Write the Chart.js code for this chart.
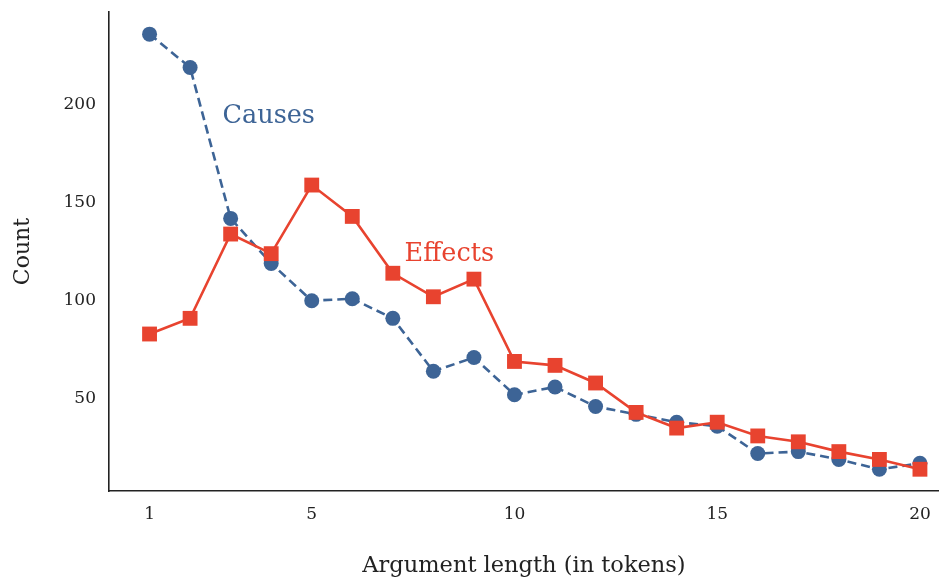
<!DOCTYPE html>
<html>
<head>
<meta charset="utf-8">
<script src="https://cdn.jsdelivr.net/npm/chart.js@4"></script>
<style>
  html, body { margin: 0; padding: 0; background: #fff; overflow: hidden; }
  #wrap { width: 939px; height: 577px; position: relative; }
  canvas { display: block; }
</style>
</head>
<body>
<div id="wrap"><canvas id="chart"></canvas></div>
<script>
// ── Data ───────────────────────────────────────────
const lengths = [1, 2, 3, 4, 5, 6, 7, 8, 9, 10, 11, 12, 13, 14, 15, 16, 17, 18, 19, 20];
const causes  = [236, 219, 142, 119, 100, 101, 91, 64, 71, 52, 56, 46, 42, 38, 36, 22, 23, 19, 14, 17];
const effects = [83, 91, 134, 124, 159, 143, 114, 102, 111, 69, 67, 58, 43, 35, 38, 31, 28, 23, 19, 14];
const xTicks  = [1, 5, 10, 15, 20];
const yTicks  = [50, 100, 150, 200];

const BLUE = '#3d6496';
const RED  = '#e8432f';
const FONT = '"DejaVu Serif", serif';

const toPoints = (vals) => vals.map((v, i) => ({ x: lengths[i], y: v }));

// Inline series labels placed in data coordinates
const seriesLabels = {
  id: 'seriesLabels',
  afterDatasetsDraw(chart) {
    const { ctx, scales: { x, y } } = chart;
    ctx.save();
    ctx.font = '25.5px ' + FONT;
    ctx.textAlign = 'left';
    ctx.textBaseline = 'middle';
    ctx.fillStyle = BLUE;
    ctx.fillText('Causes', x.getPixelForValue(2.8), y.getPixelForValue(194));
    ctx.fillStyle = RED;
    ctx.fillText('Effects', x.getPixelForValue(7.29), y.getPixelForValue(123.5));
    ctx.restore();
  }
};

new Chart(document.getElementById('chart'), {
  type: 'line',
  data: {
    datasets: [{
      label: 'Effects',
      data: toPoints(effects),
      borderColor: RED,
      backgroundColor: RED,
      borderWidth: 2.6,
      pointStyle: 'rect',
      pointRadius: 10.5,
      pointBorderWidth: 0,
      tension: 0
    }, {
      label: 'Causes',
      data: toPoints(causes),
      borderColor: BLUE,
      backgroundColor: BLUE,
      borderWidth: 2.6,
      borderDash: [9, 5],
      pointStyle: 'circle',
      pointRadius: 7.5,
      pointBorderWidth: 0,
      tension: 0
    }]
  },
  options: {
    responsive: true,
    maintainAspectRatio: false,
    animation: false,
    layout: { autoPadding: false, padding: { top: 12, right: 0, left: 0, bottom: 0 } },
    plugins: {
      legend: { display: false },
      tooltip: { enabled: false }
    },
    scales: {
      x: {
        type: 'linear',
        min: 0,
        max: 20.47,
        afterFit: (s) => { s.height = 86; s.paddingLeft = 0; s.paddingRight = 0; },
        afterBuildTicks: (s) => { s.ticks = xTicks.map(v => ({ value: v })); },
        grid: { display: false, drawOnChartArea: false, drawTicks: true, tickLength: 7, tickColor: '#222', tickWidth: 1.3 },
        border: { display: true, color: '#222', width: 1.6 },
        ticks: { color: '#222', font: { family: FONT, size: 17 }, padding: 6, maxRotation: 0 },
        title: { display: true, text: 'Argument length (in tokens)', color: '#222', font: { family: FONT, size: 22.5, lineHeight: 1 }, padding: { top: 24, bottom: 0 } }
      },
      y: {
        type: 'linear',
        min: 2.9,
        max: 247.3,
        afterFit: (s) => { s.width = 109; s.paddingTop = 0; s.paddingBottom = 0; },
        afterBuildTicks: (s) => { s.ticks = yTicks.map(v => ({ value: v })); },
        grid: { display: false, drawOnChartArea: false, drawTicks: true, tickLength: 7, tickColor: '#222', tickWidth: 1.3 },
        border: { display: true, color: '#222', width: 1.6 },
        ticks: { color: '#222', font: { family: FONT, size: 17 }, padding: 6 },
        title: { display: true, text: 'Count', color: '#222', font: { family: FONT, size: 22 }, padding: { top: 10, bottom: 22 } }
      }
    }
  },
  plugins: [seriesLabels]
});
</script>
</body>
</html>
